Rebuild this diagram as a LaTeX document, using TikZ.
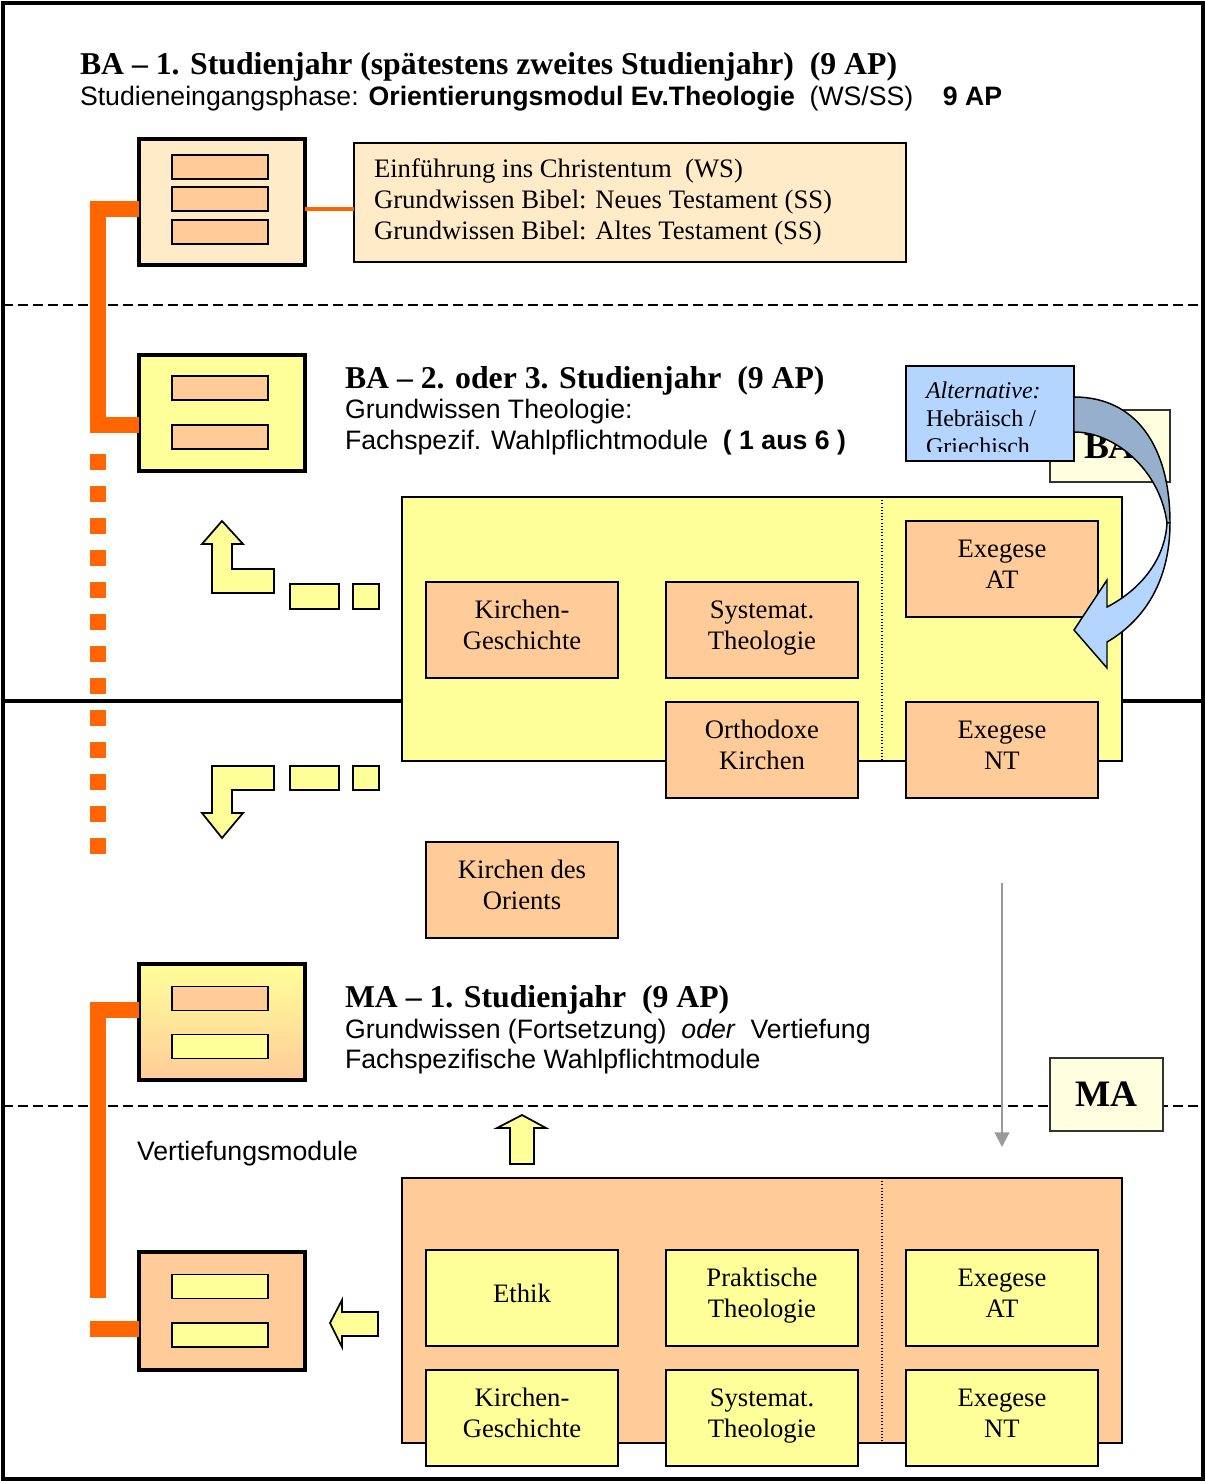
\documentclass[tikz,border=0pt]{standalone}
\usepackage{fontspec}
\setmainfont{Liberation Serif}
\setsansfont{Liberation Sans}
\usetikzlibrary{calc,arrows.meta}
\definecolor{peach}{HTML}{FFCC99}
\definecolor{lyellow}{HTML}{FFFF99}
\definecolor{cream}{HTML}{FFEBC8}
\definecolor{orng}{HTML}{FF6600}
\definecolor{lblue}{HTML}{B4D5FF}
\definecolor{dblue}{HTML}{95AFCC}
\definecolor{ivory}{HTML}{FFFFE0}
\definecolor{grayarr}{HTML}{9A9A9A}
\newcommand\ms{\rule[-7.5pt]{0pt}{21pt}}
\begin{document}
\begin{tikzpicture}[x=0.75pt,y=-0.75pt,
 every node/.style={inner sep=0pt, outer sep=0pt},
 icon/.style={draw, line width=3pt, minimum width=124.5pt},
 bar/.style={draw, line width=1.4pt, minimum width=72pt, minimum height=18pt, fill=peach},
 ybar/.style={bar, fill=lyellow},
 mod/.style={draw, line width=1.4pt, minimum width=144pt, minimum height=72pt, align=center, font=\fontsize{20}{23.25}\selectfont},
 conn/.style={draw=orng, line width=12pt, line join=miter},
 blk/.style={draw, line width=1.3pt, fill=lyellow, line join=miter},
 hd/.style={anchor=base west, font=\fontsize{23.8}{28}\selectfont\bfseries},
 sf/.style={anchor=base west, font=\sffamily\fontsize{20}{23.25}\selectfont},
 rm/.style={anchor=base west, font=\fontsize{20}{23.25}\selectfont},
 dashline/.style={line width=1.1pt, dash pattern=on 7.5pt off 3.75pt},
 dotline/.style={line width=0.8pt, dash pattern=on 0.8pt off 1.6pt},
 lbl/.style={draw=black!80, line width=1.3pt, fill=ivory, font=\fontsize{28}{32}\selectfont\bfseries},
]
\useasboundingbox (0,0) rectangle (1205,1481);
\fill[white] (0,0) rectangle (1205,1481);

% separators
\draw[dashline] (3,305) -- (1203,305);
\draw[dashline] (3,1106) -- (1203,1106);
\draw[line width=2.4pt] (3,701) -- (1203,701);

% headings
\node[hd] (h1) at (80,74) {BA – 1. Studienjahr (spätestens zweites Studienjahr)\ \ (9 AP)};
\node[sf] (s1) at (80,105.5) {Studieneingangsphase: \textbf{Orientierungsmodul Ev.Theologie}\ \ (WS/SS)\ \ \ \ \textbf{9 AP}};
\node[hd] (h2) at (345,388) {BA – 2. oder 3. Studienjahr\ \ (9 AP)};
\node[sf] (s2) at (345,418.5) {Grundwissen Theologie:};
\node[sf] (s3) at (345,449.5) {Fachspezif. Wahlpflichtmodule\ \ \textbf{( 1 aus 6 )}};
\node[hd] (h3) at (345,1007) {MA – 1. Studienjahr\ \ (9 AP)};
\node[sf] (s4) at (345,1038.5) {Grundwissen (Fortsetzung)\ \ \textit{oder}\ \ Vertiefung};
\node[sf] (s5) at (345,1068.5) {Fachspezifische Wahlpflichtmodule};
\node[sf] (s6) at (137,1160.5) {Vertiefungsmodule};

% orange connectors
\coordinate (y1) at (0,209);
\coordinate (y2) at (0,425);
\coordinate (y3) at (0,1010);
\coordinate (y4) at (0,1329);
\coordinate (k1) at (98,209);
\coordinate (k2) at (98,425);
\coordinate (d1) at (98,454);
\coordinate (d2) at (98,854);
\coordinate (k3) at (98,1010);
\coordinate (k4) at (98,1298);
\coordinate (k5) at (90,1329);

% top text box
\node[draw, line width=1.4pt, fill=cream, minimum width=414pt, minimum height=89.25pt] (tb) at (630,202.5) {};
\node[rm] (t1) at (374,177) {Einführung ins Christentum\ \ (WS)};
\node[rm] (t2) at (374,208) {Grundwissen Bibel: Neues Testament (SS)};
\node[rm] (t3) at (374,239) {Grundwissen Bibel: Altes Testament (SS)};

% icons
\node[icon, fill=cream, minimum height=94.5pt] (i1) at (222,202) {};
\node[icon, fill=lyellow, minimum height=87pt] (i2) at (222,413) {};
\node[icon, top color=lyellow, bottom color=peach, minimum height=87pt] (i3) at (222,1022) {};
\node[icon, fill=peach, minimum height=88.5pt] (i4) at (222,1311) {};

\draw[conn] (i1.west |- y1) -- (k1) -- (k2) -- (i2.west |- y2);
\draw[orng, line width=12pt, dash pattern=on 12pt off 12pt] (d1) -- (d2);
\draw[conn] (i3.west |- y3) -- (k3) -- (k4);
\draw[conn] (k5) -- (i4.west |- y4);
\draw[orng, line width=3.5pt] (i1.east |- y1) -- (tb.west |- y1);

\node[bar] (b11) at (220,167) {};
\node[bar] (b12) at (220,199) {};
\node[bar] (b13) at (220,232) {};
\node[bar] (b21) at (220,388) {};
\node[bar] (b22) at (220,437) {};
\node[bar] (b31) at (220,998.5) {};
\node[ybar] (b32) at (220,1046.5) {};
\node[ybar] (b41) at (220,1286.5) {};
\node[ybar] (b42) at (220,1335) {};

% block arrows
\draw[blk] (222,521) -- (243,544) -- (232,544) -- (232,569) -- (274,569) -- (274,593) -- (212,593) -- (212,544) -- (202,544) -- cycle;
\draw[blk] (290,584) rectangle (339,609);
\draw[blk] (353,584) rectangle (379,609);
\draw[blk] (212,766) -- (274,766) -- (274,790) -- (232,790) -- (232,813) -- (243,813) -- (222,838) -- (202,813) -- (212,813) -- cycle;
\draw[blk] (290,766) rectangle (339,790);
\draw[blk] (353,766) rectangle (379,790);
\draw[blk] (330,1323) -- (342,1300) -- (342,1312) -- (378,1312) -- (378,1336) -- (342,1336) -- (342,1347) -- cycle;
\draw[blk] (522,1115) -- (546,1128) -- (534,1128) -- (534,1164) -- (510,1164) -- (510,1128) -- (497,1128) -- cycle;

% BA container
\node[draw, line width=1.4pt, fill=lyellow, minimum width=540pt, minimum height=198pt] (ba) at (762,629) {};
\draw[dotline] (882,497) -- (882,761);
\node[mod, fill=peach] (m1) at (522,630) {\ms Kirchen-\\\ms Geschichte};
\node[mod, fill=peach] (m2) at (762,630) {\ms Systemat.\\\ms Theologie};
\node[mod, fill=peach] (m3) at (1002,569) {\ms Exegese\\\ms AT};
\node[mod, fill=peach] (m4) at (762,750) {\ms Orthodoxe\\\ms Kirchen};
\node[mod, fill=peach] (m5) at (1002,750) {\ms Exegese\\\ms NT};
\node[mod, fill=peach] (m6) at (522,890) {\ms Kirchen des\\\ms Orients};

% MA container
\node[draw, line width=1.4pt, fill=peach, minimum width=540pt, minimum height=198.75pt] (ma) at (762,1310.5) {};
\draw[dotline] (882,1178) -- (882,1443);
\node[mod, fill=lyellow] (n1) at (522,1298) {\ms Ethik};
\node[mod, fill=lyellow] (n2) at (762,1298) {\ms Praktische\\\ms Theologie};
\node[mod, fill=lyellow] (n3) at (1002,1298) {\ms Exegese\\\ms AT};
\node[mod, fill=lyellow] (n4) at (522,1418) {\ms Kirchen-\\\ms Geschichte};
\node[mod, fill=lyellow] (n5) at (762,1418) {\ms Systemat.\\\ms Theologie};
\node[mod, fill=lyellow] (n6) at (1002,1418) {\ms Exegese\\\ms NT};

% gray arrow
\coordinate (g1) at (1002,883);
\coordinate (g2) at (1002,1147);
\draw[grayarr, line width=1.5pt, -{Triangle[length=11pt,width=11pt]}] (g1) -- (g2);

% labels BA / MA
\node[lbl, minimum width=90pt, minimum height=54pt] (bal) at (1110,446) {BA};
\node[lbl, minimum width=84.75pt, minimum height=54.75pt] (mal) at (1106.5,1094.5) {MA};

% alternative box
\node[draw, line width=1.4pt, fill=lblue, minimum width=126pt, minimum height=71.25pt] (alt) at (990,413.5) {};
\begin{scope}
\clip (906,366) rectangle (1074,451);
\node[anchor=base west, font=\fontsize{18}{20}\selectfont\itshape] (a1) at (926,398) {Alternative:};
\node[anchor=base west, font=\fontsize{18}{20}\selectfont] (a2) at (926,426) {Hebräisch /};
\node[anchor=base west, font=\fontsize{18}{20}\selectfont] (a3) at (926,454) {Griechisch};
\end{scope}

% curved arrow
\filldraw[fill=dblue, draw=black, line width=1.1pt, line join=round]
 (alt.east |- 0,397) .. controls (1135,397) and (1170,445) .. (1170,523)
 -- (1167,523) .. controls (1160,470) and (1115,432) .. (alt.east |- 0,432) -- cycle;
\filldraw[fill=lblue, draw=black, line width=1.1pt, line join=miter]
 (1170,523) .. controls (1170,580) and (1145,620) .. (1107,642)
 -- (1107,668) -- (1074,630) -- (1107,580) -- (1107,607)
 .. controls (1140,590) and (1165,560) .. (1167,523) -- cycle;

% frame
\draw[line width=2.4pt] (3,3) rectangle (1203,1479);
\end{tikzpicture}
\end{document}
